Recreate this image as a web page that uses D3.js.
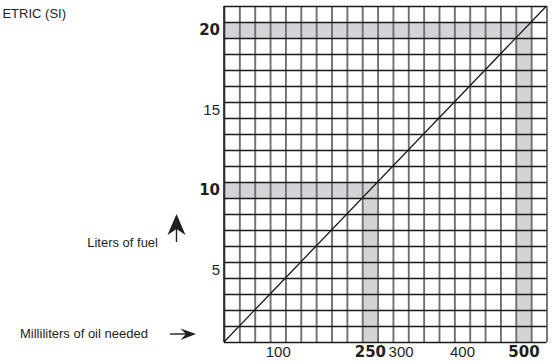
<!DOCTYPE html>
<html lang="en">
<head>
<meta charset="UTF-8"/>
<title>Oil to fuel ratio chart</title>
<script src="https://d3js.org/d3.v7.min.js"></script>
<style>
	body { margin: 0; background: #fff; }
	svg { display: block; }
</style>
</head>
<body>
<script>
	// chart size
	var w = 555;
	var h = 364;

	// data
	var mlMax = 525;            // grid ends at 21 columns of 25 ml
	var litersMax = 21;         // 21 rows of 1 liter
	var mlStep = 25;
	var literStep = 1;
	var xTicks = [100, 250, 300, 400, 500];
	var xBold = [250, 500];
	var yTicks = [5, 10, 15, 20];
	var yBold = [10, 20];
	var markMl = [250, 500];    // shaded readings
	var markLiters = [10, 20];
	var lineMl = [0, 525];      // ratio line
	var lineLiters = [0, 21];

	// plot area
	var plotLeft = 224, plotRight = 546.5, plotTop = 6, plotBottom = 342;

	var xScale = d3.scaleLinear().domain([0, mlMax]).range([plotLeft, plotRight]);
	var yScale = d3.scaleLinear().domain([0, litersMax]).range([plotBottom, plotTop]);

	var svg = d3.select("body").append("svg")
		.attr("width", w)
		.attr("height", h);

	// shaded L bands
	var marks = markMl.map(function(d, i) { return [d, markLiters[i]]; });

	svg.selectAll("rect.row")
		.data(marks)
		.enter()
		.append("rect")
		.attr("class", "row")
		.attr("x", xScale(0))
		.attr("y", function(d) { return yScale(d[1]); })
		.attr("width", function(d) { return xScale(d[0]) - xScale(0); })
		.attr("height", function(d) { return yScale(d[1] - literStep) - yScale(d[1]); })
		.attr("fill", "#d3d4d6");

	svg.selectAll("rect.col")
		.data(marks)
		.enter()
		.append("rect")
		.attr("class", "col")
		.attr("x", function(d) { return xScale(d[0] - mlStep); })
		.attr("y", function(d) { return yScale(d[1]); })
		.attr("width", function(d) { return xScale(d[0]) - xScale(d[0] - mlStep); })
		.attr("height", function(d) { return yScale(0) - yScale(d[1]); })
		.attr("fill", "#d3d4d6");

	// grid: vertical lines are grey, horizontal are black
	var xGrid = d3.axisBottom(xScale)
		.tickValues(d3.range(0, mlMax + 1, mlStep))
		.tickSize(-(plotBottom - plotTop))
		.tickFormat("");
	svg.append("g")
		.attr("transform", "translate(0," + plotBottom + ")")
		.call(xGrid)
		.call(function(g) {
			g.select(".domain").remove();
			g.selectAll("line").attr("stroke", "#707070").attr("stroke-width", 1.9);
		});

	var yGrid = d3.axisLeft(yScale)
		.tickValues(d3.range(0, litersMax + 1, literStep))
		.tickSize(-(plotRight - plotLeft))
		.tickFormat("");
	svg.append("g")
		.attr("transform", "translate(" + plotLeft + ",0)")
		.call(yGrid)
		.call(function(g) {
			g.select(".domain").remove();
			g.selectAll("line").attr("stroke", "#1a1a1a").attr("stroke-width", 1.3);
		});

	// left border is black
	svg.append("line")
		.attr("x1", xScale(0)).attr("x2", xScale(0))
		.attr("y1", yScale(0)).attr("y2", yScale(litersMax))
		.attr("stroke", "#1a1a1a")
		.attr("stroke-width", 1.5);

	// ratio line
	var line = d3.line()
		.x(function(d) { return xScale(d[0]); })
		.y(function(d) { return yScale(d[1]); });
	svg.append("path")
		.datum(lineMl.map(function(d, i) { return [d, lineLiters[i]]; }))
		.attr("d", line)
		.attr("fill", "none")
		.attr("stroke", "#1a1a1a")
		.attr("stroke-width", 1.3);

	// tick labels sit in the middle of their cell
	var xLabels = d3.axisBottom(xScale).tickValues(xTicks).tickSize(0).tickPadding(0);
	svg.append("g")
		.attr("transform", "translate(0," + plotBottom + ")")
		.call(xLabels)
		.call(function(g) {
			g.select(".domain").remove();
			g.selectAll("text")
				.attr("x", -(xScale(mlStep) - xScale(0)) / 2)
				.attr("y", 4.5)
				.attr("fill", "#231f20")
				.style("font-family", function(d) { return xBold.indexOf(d) >= 0 ? "'DejaVu Sans'" : "'Liberation Sans', Arial"; })
				.style("font-weight", function(d) { return xBold.indexOf(d) >= 0 ? "bold" : "normal"; })
				.style("font-size", "15px");
		});

	var yLabels = d3.axisLeft(yScale).tickValues(yTicks).tickSize(0).tickPadding(4);
	svg.append("g")
		.attr("transform", "translate(" + plotLeft + ",0)")
		.call(yLabels)
		.call(function(g) {
			g.select(".domain").remove();
			g.selectAll("text")
				.attr("y", (yScale(0) - yScale(literStep)) / 2)
				.attr("fill", "#231f20")
				.style("font-family", function(d) { return yBold.indexOf(d) >= 0 ? "'DejaVu Sans'" : "'Liberation Sans', Arial"; })
				.style("font-weight", function(d) { return yBold.indexOf(d) >= 0 ? "bold" : "normal"; })
				.style("font-size", "15px");
		});

	// captions
	var capFont = "'Liberation Sans', Arial", capSize = "13px", capFill = "#231f20";

	// the reference crops the title at the left edge; only the visible part is kept
	svg.append("text")
		.attr("x", 66).attr("y", 18)
		.attr("text-anchor", "end")
		.attr("font-family", capFont).attr("font-size", capSize).attr("fill", capFill)
		.text("ETRIC (SI)");

	svg.append("text")
		.attr("x", 158).attr("y", 247)
		.attr("text-anchor", "end")
		.attr("font-family", capFont).attr("font-size", capSize).attr("fill", capFill)
		.text("Liters of fuel");

	svg.append("text")
		.attr("x", 20).attr("y", 338)
		.attr("font-family", capFont).attr("font-size", capSize).attr("fill", capFill)
		.text("Milliliters of oil needed");

	// arrows
	svg.append("line")
		.attr("x1", 176.5).attr("x2", 176.5).attr("y1", 242).attr("y2", 226)
		.attr("stroke", "#231f20").attr("stroke-width", 1.4);
	svg.append("path")
		.attr("d", "M176.5,214 L185.5,235 L176.5,229 L167.5,235 Z")
		.attr("fill", "#231f20");

	svg.append("line")
		.attr("x1", 170).attr("x2", 186).attr("y1", 334).attr("y2", 334)
		.attr("stroke", "#231f20").attr("stroke-width", 1.4);
	svg.append("path")
		.attr("d", "M196,334 L180.5,328.5 L186,334 L180.5,340 Z")
		.attr("fill", "#231f20");
</script>
</body>
</html>
